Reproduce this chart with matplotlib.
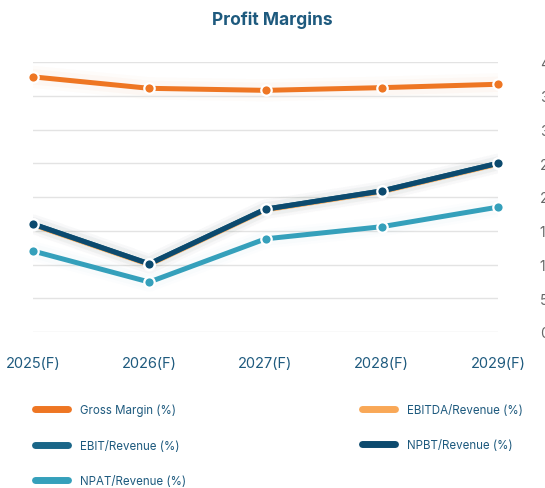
import matplotlib
matplotlib.use("Agg")
import matplotlib.pyplot as plt
from matplotlib.lines import Line2D

years = ["2025(F)", "2026(F)", "2027(F)", "2028(F)", "2029(F)"]
gross_margin = [37.8, 36.1, 35.8, 36.2, 36.7]
ebitda_rev = [15.9, 10.0, 18.1, 20.8, 24.9]
ebit_rev = [16.0, 10.1, 18.2, 20.9, 25.0]
npbt_rev = [16.0, 10.1, 18.2, 20.9, 25.0]
npat_rev = [12.0, 7.4, 13.8, 15.6, 18.5]
yticks = [0, 5, 10, 15, 20, 25, 30, 35, 40]

series = [
    ("Gross Margin (%)", gross_margin, "#EE7623"),
    ("EBITDA/Revenue (%)", ebitda_rev, "#F9A857"),
    ("EBIT/Revenue (%)", ebit_rev, "#1A6688"),
    ("NPBT/Revenue (%)", npbt_rev, "#0C4A6E"),
    ("NPAT/Revenue (%)", npat_rev, "#35A0BB"),
]

plt.rcParams["font.family"] = ["Inter", "DejaVu Sans"]

fig = plt.figure(figsize=(5.45, 4.89), dpi=100)
ax = fig.add_axes([33 / 545, (489 - 333) / 489, (498 - 33) / 545, (333 - 63) / 489])

x = list(range(len(years)))
handles = {}
for i, (name, vals, col) in enumerate(series):
    glow = [(16, 0.02), (11, 0.03)] if i == 0 else [(14, 0.012), (10, 0.018)]
    for lw, a in glow:
        ax.plot(x, vals, color=col, lw=lw, alpha=a, solid_capstyle="round", zorder=1 + i)
    lw = 3.8 if name.startswith("EBITDA") else 3.6
    ax.plot(x, vals, color=col, lw=lw, solid_capstyle="butt",
            marker="o", markersize=7.5, markerfacecolor=col,
            markeredgecolor="white", markeredgewidth=1.6,
            clip_on=False, zorder=3 + i)
    handles[name] = Line2D([], [], color=col, lw=5, solid_capstyle="round")

ax.set_xlim(0, len(years) - 1)
ax.set_ylim(0, 40)
ax.set_yticks(yticks)
ax.set_yticklabels([str(t) for t in yticks])
ax.yaxis.tick_right()
ax.tick_params(axis="y", length=0, pad=30, labelsize=10, labelcolor="#666666")
ax.set_xticks(x)
ax.set_xticklabels(years)
ax.tick_params(axis="x", length=0, pad=17, labelsize=10.5, labelcolor="#1E5A7E")
ax.grid(axis="y", color="#E3E3E3", lw=1)
for s in ax.spines.values():
    s.set_visible(False)

fig.text(0.5, 1 - 20 / 489, "Profit Margins", ha="center", va="center",
         fontsize=12.5, fontweight="bold", color="#1E5A7E")

col1 = ["Gross Margin (%)", "EBIT/Revenue (%)", "NPAT/Revenue (%)"]
col2 = ["EBITDA/Revenue (%)", "NPBT/Revenue (%)"]
legkw = dict(loc="upper left", frameon=False, fontsize=8.3, handlelength=2.9,
             handletextpad=1.0, labelspacing=2.0, labelcolor="#1E5A7E",
             borderpad=0, borderaxespad=0)
leg1 = fig.legend([handles[n] for n in col1], col1,
                  bbox_to_anchor=(35 / 545, 1 - 405 / 489), **legkw)
leg2 = fig.legend([handles[n] for n in col2], col2,
                  bbox_to_anchor=(362 / 545, 1 - 405 / 489), **legkw)

fig.savefig("out.png", dpi=100)
